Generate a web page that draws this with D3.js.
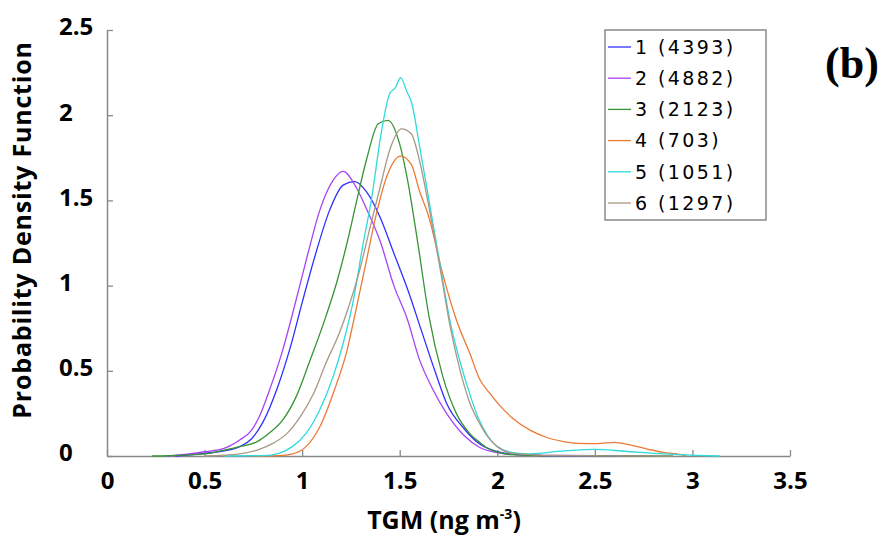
<!DOCTYPE html>
<html>
<head>
<meta charset="utf-8">
<script src="https://cdn.jsdelivr.net/npm/d3@7"></script>
<style>
  body { margin: 0; background: #fff; }
  svg { display: block; }
</style>
</head>
<body>
<script>
const canvasWidth = 889;
const canvasHeight = 551;

// series labels and colours
const seriesNames = ['1 (4393)', '2 (4882)', '3 (2123)', '4 (703)', '5 (1051)', '6 (1297)'];
const seriesColors = ['#3030ff', '#a843f5', '#369436', '#ea7a35', '#30dada', '#a89886'];

// TGM (ng m-3) / density pairs
const x1 = [0.35, 0.5, 0.6, 0.68, 0.74, 0.8, 0.87, 0.94, 1.0, 1.07, 1.14, 1.21, 1.27, 1.33, 1.4, 1.47, 1.54, 1.61, 1.68, 1.74, 1.83, 1.91, 2.0, 2.08, 2.2, 2.4, 2.6];
const y1 = [0, 0.016, 0.03, 0.055, 0.1, 0.2, 0.39, 0.64, 0.9, 1.19, 1.44, 1.59, 1.61, 1.55, 1.4, 1.19, 0.98, 0.74, 0.5, 0.31, 0.16, 0.07, 0.025, 0.01, 0.004, 0.001, 0];

const x2 = [0.3, 0.4, 0.5, 0.6, 0.68, 0.74, 0.78, 0.84, 0.9, 0.97, 1.03, 1.09, 1.16, 1.21, 1.28, 1.33, 1.4, 1.47, 1.54, 1.6, 1.67, 1.74, 1.83, 1.91, 2.0, 2.1, 2.3, 2.6, 2.8];
const y2 = [0, 0.01, 0.025, 0.045, 0.094, 0.15, 0.23, 0.41, 0.62, 0.92, 1.19, 1.44, 1.62, 1.67, 1.57, 1.45, 1.26, 1.0, 0.8, 0.57, 0.39, 0.25, 0.12, 0.05, 0.02, 0.008, 0.003, 0.001, 0];

const x3 = [0.23, 0.4, 0.5, 0.6, 0.68, 0.77, 0.83, 0.9, 0.97, 1.04, 1.11, 1.18, 1.23, 1.28, 1.33, 1.39, 1.44, 1.5, 1.54, 1.59, 1.65, 1.72, 1.79, 1.86, 1.91, 1.96, 2.08, 2.3, 2.6, 2.9];
const y3 = [0, 0.005, 0.012, 0.035, 0.055, 0.084, 0.133, 0.21, 0.35, 0.56, 0.78, 1.03, 1.25, 1.5, 1.74, 1.95, 1.97, 1.83, 1.62, 1.27, 0.82, 0.47, 0.25, 0.13, 0.08, 0.04, 0.008, 0.002, 0.001, 0];

const x4 = [0.75, 0.88, 0.95, 1.02, 1.09, 1.16, 1.23, 1.28, 1.33, 1.38, 1.44, 1.505, 1.56, 1.6, 1.65, 1.72, 1.79, 1.86, 1.91, 1.96, 2.01, 2.08, 2.17, 2.25, 2.34, 2.42, 2.51, 2.6, 2.68, 2.77, 2.85, 2.94, 2.97];
const y4 = [0, 0.002, 0.012, 0.055, 0.17, 0.37, 0.62, 0.88, 1.15, 1.42, 1.66, 1.76, 1.71, 1.56, 1.4, 1.07, 0.8, 0.6, 0.45, 0.37, 0.3, 0.22, 0.15, 0.11, 0.085, 0.074, 0.073, 0.08, 0.065, 0.041, 0.021, 0.008, 0];

const x5 = [0.6, 0.8, 0.88, 0.95, 1.02, 1.09, 1.16, 1.21, 1.26, 1.31, 1.36, 1.4, 1.45, 1.477, 1.505, 1.536, 1.562, 1.6, 1.65, 1.71, 1.76, 1.81, 1.86, 1.9, 1.95, 2.0, 2.08, 2.17, 2.34, 2.5, 2.68, 2.85, 3.02, 3.14];
const y5 = [0, 0.002, 0.016, 0.055, 0.133, 0.27, 0.47, 0.66, 0.9, 1.23, 1.54, 1.86, 2.13, 2.16, 2.22, 2.14, 2.07, 1.83, 1.5, 1.1, 0.78, 0.55, 0.36, 0.23, 0.12, 0.055, 0.02, 0.013, 0.03, 0.039, 0.025, 0.012, 0.004, 0];

const x6 = [0.5, 0.68, 0.77, 0.85, 0.92, 0.99, 1.06, 1.12, 1.19, 1.24, 1.29, 1.35, 1.4, 1.45, 1.51, 1.56, 1.6, 1.65, 1.71, 1.76, 1.81, 1.86, 1.91, 1.96, 2.0, 2.08, 2.3, 2.6, 2.9];
const y6 = [0, 0.012, 0.035, 0.074, 0.13, 0.23, 0.37, 0.54, 0.72, 0.88, 1.07, 1.35, 1.58, 1.8, 1.92, 1.89, 1.74, 1.46, 1.08, 0.75, 0.5, 0.31, 0.19, 0.1, 0.055, 0.016, 0.003, 0.001, 0];

const xTicks = [0, 0.5, 1, 1.5, 2, 2.5, 3, 3.5];
const yTicks = [0, 0.5, 1, 1.5, 2, 2.5];

const xs = [x1, x2, x3, x4, x5, x6];
const ys = [y1, y2, y3, y4, y5, y6];

let svg = d3.select('body').append('svg')
  .attr('width', canvasWidth).attr('height', canvasHeight)
  .style('font-family', '"Open Sans", sans-serif');

// scales
let scaleX = d3.scaleLinear([0, 3.5], [107, 790]);
let scaleY = d3.scaleLinear([0, 2.5], [456, 30]);

// x axis (ticks point inward)
let axisX = d3.axisBottom(scaleX).tickValues(xTicks).tickSizeInner(-6).tickSizeOuter(0).tickPadding(16)
  .tickFormat(d3.format('~g'));
let gx = svg.append('g').attr('transform', 'translate(0,456)').call(axisX);

let axisY = d3.axisLeft(scaleY).tickValues(yTicks).tickSizeInner(-6).tickSizeOuter(0)
  .tickFormat(d3.format('~g'));
let gy = svg.append('g').attr('transform', 'translate(107,0)').call(axisY);

[gx, gy].forEach((g) => {
  g.select('.domain').attr('stroke', '#8a8a8a').attr('stroke-width', 1.5);
  g.selectAll('.tick line').attr('stroke', '#8a8a8a').attr('stroke-width', 1.3);
  g.selectAll('.tick text').attr('fill', '#000').style('font-size', '24px').style('font-weight', 700)
    .style('font-family', '"Open Sans", sans-serif');
});
// y labels sit left-aligned
gy.selectAll('.tick text').attr('text-anchor', 'start').attr('x', -48).attr('dy', '0.2em');

// axis titles
svg.append('text')
  .attr('transform', 'translate(31,230) rotate(-90)')
  .attr('text-anchor', 'middle')
  .style('font-size', '25px').style('font-weight', 700).style('letter-spacing', '0.8px')
  .text('Probability Density Function');

let xt = svg.append('text')
  .attr('x', 444).attr('y', 529)
  .attr('text-anchor', 'middle')
  .style('font-size', '25px').style('font-weight', 700);
xt.append('tspan').text('TGM (ng m');
xt.append('tspan').attr('dy', -10).style('font-size', '14px').text('-3');
xt.append('tspan').attr('dy', 10).text(')');

// curves
let line = d3.line()
  .x((d) => scaleX(d[0]))
  .y((d) => scaleY(d[1]))
  .curve(d3.curveMonotoneX);

let series = seriesNames.map((name, i) => ({
  name: name,
  color: seriesColors[i],
  pts: xs[i].map((v, j) => [v, ys[i][j]]),
}));

svg.append('g').selectAll('path').data(series).enter().append('path')
  .attr('d', (d) => line(d.pts))
  .attr('fill', 'none')
  .attr('stroke', (d) => d.color)
  .attr('stroke-width', 1.3);

// legend
let lg = svg.append('g').attr('transform', 'translate(605,30)');
lg.append('rect').attr('width', 161).attr('height', 190)
  .attr('fill', '#fff').attr('stroke', '#8a8a8a').attr('stroke-width', 1.5);

let rows = lg.selectAll('g.row').data(series).enter().append('g')
  .attr('class', 'row')
  .attr('transform', (d, i) => `translate(0,${17 + i * 31.2})`);
rows.append('line').attr('x1', 3).attr('x2', 26)
  .attr('stroke', (d) => d.color).attr('stroke-width', 1.3);
rows.append('text').attr('x', 30).attr('dy', '0.36em')
  .style('font-family', '"DejaVu Sans", sans-serif').style('font-size', '19px')
  .style('letter-spacing', '2.4px')
  .text((d) => d.name);

// panel label
svg.append('text')
  .attr('x', 852).attr('y', 78)
  .attr('text-anchor', 'middle')
  .style('font-family', '"Liberation Serif", serif').style('font-size', '44px').style('font-weight', 700)
  .text('(b)');
</script>
</body>
</html>
